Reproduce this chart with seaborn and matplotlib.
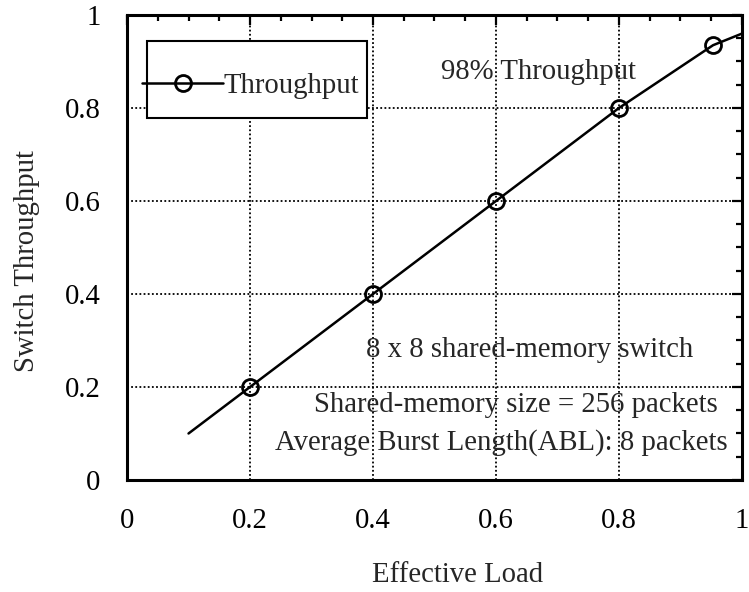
import numpy as np
import pandas as pd
import seaborn as sns
import matplotlib.pyplot as plt
from matplotlib.patches import Rectangle
from matplotlib.ticker import MultipleLocator, FuncFormatter

load = [0.1, 0.2, 0.4, 0.6, 0.8, 0.953, 1.0]
throughput = [0.1, 0.2, 0.4, 0.6, 0.8, 0.935, 0.96]
marked = [1, 2, 3, 4, 5]

sns.set_style("white")
plt.rcParams["font.family"] = ["Liberation Serif", "DejaVu Serif"]
FS = 20.7

df = pd.DataFrame({"Effective Load": load, "Switch Throughput": throughput})

fig = plt.figure(figsize=(7.49, 5.92), dpi=100)
ax = fig.add_axes([0.1696, 0.1892, 0.821, 0.7855])
sns.lineplot(data=df, x="Effective Load", y="Switch Throughput", ax=ax,
             color="black", linewidth=1.8, marker="o", markersize=11.5,
             markerfacecolor="none", markeredgecolor="black",
             markeredgewidth=2, markevery=marked, label="Throughput")

ax.set_xlim(0, 1)
ax.set_ylim(0, 1)
fmt = FuncFormatter(lambda v, p: f"{v:g}")
for axis in (ax.xaxis, ax.yaxis):
    axis.set_major_locator(MultipleLocator(0.2))
    axis.set_minor_locator(MultipleLocator(0.05))
    axis.set_major_formatter(fmt)
ax.tick_params(which="both", direction="in", top=True, right=True,
               colors="black", labelsize=FS)
ax.tick_params(axis="x", pad=20)
ax.tick_params(axis="y", pad=19)
ax.tick_params(which="major", length=7, width=1.6)
ax.tick_params(which="minor", length=4.5, width=1.6)
ax.grid(True, which="major", color="black", linewidth=1.3,
        linestyle=(0, (1, 1.3)))
for s in ax.spines.values():
    s.set_linewidth(2.2)
    s.set_color("black")

ax.set_xlabel("Effective Load", fontsize=FS, labelpad=20)
ax.set_ylabel("Switch Throughput", fontsize=FS, labelpad=18)
ax.xaxis.label.set_x(0.537)
ax.yaxis.label.set_y(0.471)

# legend box drawn separately; its handle pokes out past the left edge
ax.add_patch(Rectangle((0.0325, 0.778), 0.3575, 0.166, transform=ax.transAxes,
                       facecolor="white", edgecolor="black", linewidth=1.5,
                       zorder=4))
leg = ax.legend(loc="center left", bbox_to_anchor=(0.0244, 0.848), fontsize=FS,
                frameon=False, handlelength=2.82, borderpad=0,
                handletextpad=0.0, borderaxespad=0)
leg.set_zorder(5)

ax.text(0.669, 0.877, "98% Throughput", fontsize=FS, ha="center", va="center")
ax.text(0.655, 0.280, "8 x 8 shared-memory switch", fontsize=FS, ha="center", va="center")
ax.text(0.961, 0.161, "Shared-memory size = 256 packets", fontsize=FS, ha="right", va="center")
ax.text(0.976, 0.080, "Average Burst Length(ABL): 8 packets", fontsize=FS, ha="right", va="center")

fig.savefig("out.png", dpi=100)
